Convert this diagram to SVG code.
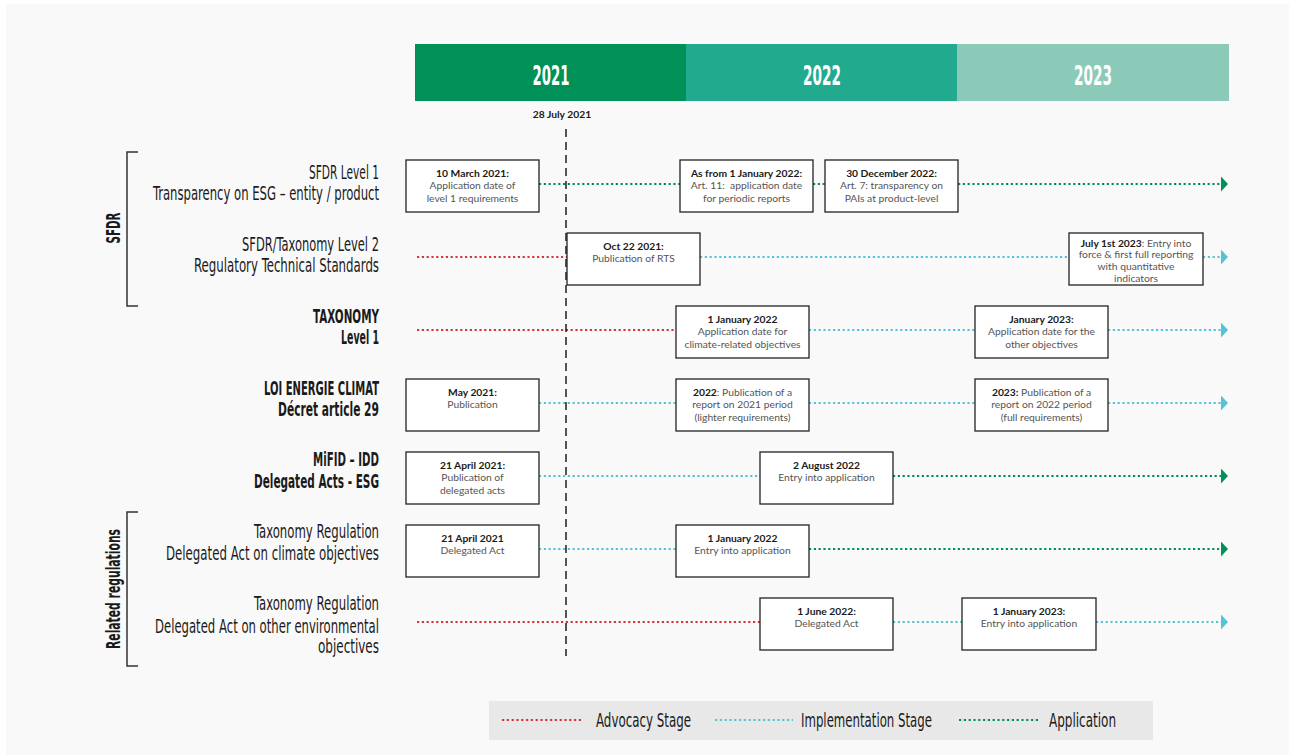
<svg xmlns="http://www.w3.org/2000/svg" width="1289" height="755" viewBox="0 0 1289 755">
  <defs>
    <style>
      .bg { fill: #f9f9f9; }
      .box { fill: #ffffff; stroke: #222222; stroke-width: 1.3; }
      .t { font-family: Lato, "Open Sans", "Liberation Sans", sans-serif; font-size: 10.3px; text-anchor: middle; }
      .tb { font-weight: bold; fill: #1a1a1a; }
      .tr { fill: #555555; }
      /* condensed display type: small size stretched vertically by the element transform */
      .cond { font-family: "DejaVu Sans Condensed", "Liberation Sans Narrow", "Liberation Sans", sans-serif; text-anchor: start; }
      .lab { font-size: 12.8px; fill: #1a1a1a; }
      .labb { font-size: 11.6px; font-weight: bold; }
      .grp { font-size: 11.6px; font-weight: bold; fill: #1a1a1a; }
      .year { font-size: 26px; font-weight: bold; fill: #ffffff; }
      .leg { font-size: 12.8px; fill: #1a1a1a; }
      .dot { fill: none; stroke-width: 2.2; stroke-dasharray: 2.2 2.6; }
      .adv { stroke: #d8343c; }
      .imp { stroke: #56c2d8; }
      .app { stroke: #009159; }
      .bracket { fill: none; stroke: #333333; stroke-width: 1.5; }
    </style>
    <marker id="arrApp" viewBox="0 0 7 15" refX="0" refY="7.5" markerWidth="7" markerHeight="15" markerUnits="userSpaceOnUse" orient="auto">
      <path d="M0,0 L7,7.5 L0,15 Z" fill="#009159"/>
    </marker>
    <marker id="arrImp" viewBox="0 0 7 15" refX="0" refY="7.5" markerWidth="7" markerHeight="15" markerUnits="userSpaceOnUse" orient="auto">
      <path d="M0,0 L7,7.5 L0,15 Z" fill="#56c2d8"/>
    </marker>
  </defs>

  <rect x="0" y="0" width="1289" height="755" fill="#ffffff"/>
  <rect class="bg" x="6" y="4" width="1283" height="751"/>

  <!-- year header -->
  <g id="years">
    <rect x="415" y="44" width="271" height="57" fill="#009159"/>
    <rect x="686" y="44" width="271" height="57" fill="#22aa8e"/>
    <rect x="957" y="44" width="272" height="57" fill="#8bcab9"/>
    <text class="cond year" x="532.5" y="85" textLength="37" lengthAdjust="spacingAndGlyphs">2021</text>
    <text class="cond year" x="803" y="85" textLength="38" lengthAdjust="spacingAndGlyphs">2022</text>
    <text class="cond year" x="1074" y="85" textLength="38" lengthAdjust="spacingAndGlyphs">2023</text>
  </g>

  <!-- group brackets -->
  <g id="group-sfdr">
    <path class="bracket" d="M138,152 H127 V306 H138"/>
    <text class="cond grp" transform="translate(120,228) rotate(-90) scale(1,1.64)" x="-15.5" y="0" textLength="31" lengthAdjust="spacingAndGlyphs">SFDR</text>
  </g>
  <g id="group-related">
    <path class="bracket" d="M138,512 H127 V666 H138"/>
    <text class="cond grp" transform="translate(120,589) rotate(-90) scale(1,1.64)" x="-60" y="0" textLength="120" lengthAdjust="spacingAndGlyphs">Related regulations</text>
  </g>

  <!-- row labels, right edge at x=379 -->
  <g id="label-sfdr-l1">
    <text class="cond lab" transform="translate(309,179) scale(1,1.49)" textLength="70" lengthAdjust="spacingAndGlyphs">SFDR Level 1</text>
    <text class="cond lab" transform="translate(153,200) scale(1,1.49)" textLength="226" lengthAdjust="spacingAndGlyphs">Transparency on ESG – entity / product</text>
  </g>
  <g id="label-sfdr-l2">
    <text class="cond lab" transform="translate(242,251) scale(1,1.49)" textLength="137" lengthAdjust="spacingAndGlyphs">SFDR/Taxonomy Level 2</text>
    <text class="cond lab" transform="translate(194,272) scale(1,1.49)" textLength="185" lengthAdjust="spacingAndGlyphs">Regulatory Technical Standards</text>
  </g>
  <g id="label-taxonomy">
    <text class="cond lab labb" transform="translate(313,323) scale(1,1.64)" textLength="66" lengthAdjust="spacingAndGlyphs">TAXONOMY</text>
    <text class="cond lab labb" transform="translate(341,344) scale(1,1.64)" textLength="38" lengthAdjust="spacingAndGlyphs">Level 1</text>
  </g>
  <g id="label-lec">
    <text class="cond lab labb" transform="translate(264,395) scale(1,1.64)" textLength="115" lengthAdjust="spacingAndGlyphs">LOI ENERGIE CLIMAT</text>
    <text class="cond lab labb" transform="translate(278,416) scale(1,1.64)" textLength="101" lengthAdjust="spacingAndGlyphs">Décret article 29</text>
  </g>
  <g id="label-mifid">
    <text class="cond lab labb" transform="translate(313,466) scale(1,1.64)" textLength="66" lengthAdjust="spacingAndGlyphs">MiFID – IDD</text>
    <text class="cond lab labb" transform="translate(254,488) scale(1,1.64)" textLength="125" lengthAdjust="spacingAndGlyphs">Delegated Acts - ESG</text>
  </g>
  <g id="label-da-climate">
    <text class="cond lab" transform="translate(254,538) scale(1,1.49)" textLength="125" lengthAdjust="spacingAndGlyphs">Taxonomy Regulation</text>
    <text class="cond lab" transform="translate(166,560) scale(1,1.49)" textLength="213" lengthAdjust="spacingAndGlyphs">Delegated Act on climate objectives</text>
  </g>
  <g id="label-da-env">
    <text class="cond lab" transform="translate(254,610) scale(1,1.49)" textLength="125" lengthAdjust="spacingAndGlyphs">Taxonomy Regulation</text>
    <text class="cond lab" transform="translate(155,633) scale(1,1.49)" textLength="224" lengthAdjust="spacingAndGlyphs">Delegated Act on other environmental</text>
    <text class="cond lab" transform="translate(318,653) scale(1,1.49)" textLength="61" lengthAdjust="spacingAndGlyphs">objectives</text>
  </g>

  <!-- stage connectors -->
  <g id="connectors">
    <!-- SFDR level 1 -->
    <line class="dot app" x1="539" y1="184" x2="680" y2="184"/>
    <line class="dot app" x1="813" y1="184" x2="825" y2="184"/>
    <line class="dot app" x1="958" y1="184" x2="1221" y2="184" marker-end="url(#arrApp)"/>
    <!-- SFDR level 2 -->
    <line class="dot adv" x1="417" y1="257" x2="567" y2="257"/>
    <line class="dot imp" x1="700" y1="257" x2="1069" y2="257"/>
    <line class="dot imp" x1="1203" y1="257" x2="1221" y2="257" marker-end="url(#arrImp)"/>
    <!-- Taxonomy level 1 -->
    <line class="dot adv" x1="417" y1="330" x2="676" y2="330"/>
    <line class="dot imp" x1="809" y1="330" x2="975" y2="330"/>
    <line class="dot imp" x1="1108" y1="330" x2="1221" y2="330" marker-end="url(#arrImp)"/>
    <!-- Loi energie climat -->
    <line class="dot imp" x1="539" y1="403" x2="676" y2="403"/>
    <line class="dot imp" x1="809" y1="403" x2="975" y2="403"/>
    <line class="dot imp" x1="1108" y1="403" x2="1221" y2="403" marker-end="url(#arrImp)"/>
    <!-- MiFID / IDD -->
    <line class="dot imp" x1="539" y1="476" x2="760" y2="476"/>
    <line class="dot app" x1="893" y1="476" x2="1221" y2="476" marker-end="url(#arrApp)"/>
    <!-- Delegated act, climate -->
    <line class="dot imp" x1="539" y1="549" x2="676" y2="549"/>
    <line class="dot app" x1="809" y1="549" x2="1221" y2="549" marker-end="url(#arrApp)"/>
    <!-- Delegated act, other objectives -->
    <line class="dot adv" x1="417" y1="622" x2="760" y2="622"/>
    <line class="dot imp" x1="893" y1="622" x2="962" y2="622"/>
    <line class="dot imp" x1="1096" y1="622" x2="1221" y2="622" marker-end="url(#arrImp)"/>
  </g>

  <!-- 28 July 2021 marker -->
  <g id="milestone-28-july">
    <text class="t tb" x="562" y="118" font-size="10.5">28 July 2021</text>
    <line x1="566" y1="129" x2="566" y2="656" stroke="#111111" stroke-width="1.4" stroke-dasharray="8 5"/>
  </g>

  <!-- event boxes -->
  <g id="sfdr1-mar21">
    <rect class="box" x="406" y="160" width="133" height="52"/>
    <text class="t tb" x="472.5" y="176.5">10 March 2021:</text>
    <text class="t tr" x="472.5" y="189">Application date of</text>
    <text class="t tr" x="472.5" y="201.5">level 1 requirements</text>
  </g>
  <g id="sfdr1-jan22">
    <rect class="box" x="680" y="160" width="133" height="52"/>
    <text class="t tb" x="746.5" y="176.5">As from 1 January 2022:</text>
    <text class="t tr" x="746.5" y="189" xml:space="preserve">Art. 11:  application date</text>
    <text class="t tr" x="746.5" y="201.5">for periodic reports</text>
  </g>
  <g id="sfdr1-dec22">
    <rect class="box" x="825" y="160" width="133" height="52"/>
    <text class="t tb" x="891.5" y="176.5">30 December 2022:</text>
    <text class="t tr" x="891.5" y="189">Art. 7: transparency on</text>
    <text class="t tr" x="891.5" y="201.5">PAIs at product-level</text>
  </g>

  <g id="sfdr2-oct21">
    <rect class="box" x="567" y="233" width="133" height="52"/>
    <text class="t tb" x="633.5" y="249.5">Oct 22 2021:</text>
    <text class="t tr" x="633.5" y="262">Publication of RTS</text>
  </g>
  <g id="sfdr2-jul23">
    <rect class="box" x="1069" y="233" width="134" height="52"/>
    <text class="t" x="1136" y="246.5"><tspan class="tb">July 1st 2023</tspan><tspan class="tr">: Entry into</tspan></text>
    <text class="t tr" x="1136" y="258.2">force &amp; first full reporting</text>
    <text class="t tr" x="1136" y="269.9">with quantitative</text>
    <text class="t tr" x="1136" y="281.6">indicators</text>
  </g>

  <g id="tax1-jan22">
    <rect class="box" x="676" y="306" width="133" height="52"/>
    <text class="t tb" x="742.5" y="322.5">1 January 2022</text>
    <text class="t tr" x="742.5" y="335">Application date for</text>
    <text class="t tr" x="742.5" y="347.5">climate-related objectives</text>
  </g>
  <g id="tax1-jan23">
    <rect class="box" x="975" y="306" width="133" height="52"/>
    <text class="t tb" x="1041.5" y="322.5">January 2023:</text>
    <text class="t tr" x="1041.5" y="335">Application date for the</text>
    <text class="t tr" x="1041.5" y="347.5">other objectives</text>
  </g>

  <g id="lec-may21">
    <rect class="box" x="406" y="379" width="133" height="52"/>
    <text class="t tb" x="472.5" y="395.5">May 2021:</text>
    <text class="t tr" x="472.5" y="408">Publication</text>
  </g>
  <g id="lec-2022">
    <rect class="box" x="676" y="379" width="133" height="52"/>
    <text class="t" x="742.5" y="395.5"><tspan class="tb">2022</tspan><tspan class="tr">: Publication of a</tspan></text>
    <text class="t tr" x="742.5" y="408">report on 2021 period</text>
    <text class="t tr" x="742.5" y="420.5">(lighter requirements)</text>
  </g>
  <g id="lec-2023">
    <rect class="box" x="975" y="379" width="133" height="52"/>
    <text class="t" x="1041.5" y="395.5"><tspan class="tb">2023:</tspan><tspan class="tr"> Publication of a</tspan></text>
    <text class="t tr" x="1041.5" y="408">report on 2022 period</text>
    <text class="t tr" x="1041.5" y="420.5">(full requirements)</text>
  </g>

  <g id="mifid-apr21">
    <rect class="box" x="406" y="452" width="133" height="52"/>
    <text class="t tb" x="472.5" y="468.5">21 April 2021:</text>
    <text class="t tr" x="472.5" y="481">Publication of</text>
    <text class="t tr" x="472.5" y="493.5">delegated acts</text>
  </g>
  <g id="mifid-aug22">
    <rect class="box" x="760" y="452" width="133" height="52"/>
    <text class="t tb" x="826.5" y="468.5">2 August 2022</text>
    <text class="t tr" x="826.5" y="481">Entry into application</text>
  </g>

  <g id="dac-apr21">
    <rect class="box" x="406" y="525" width="133" height="52"/>
    <text class="t tb" x="472.5" y="541.5">21 April 2021</text>
    <text class="t tr" x="472.5" y="554">Delegated Act</text>
  </g>
  <g id="dac-jan22">
    <rect class="box" x="676" y="525" width="133" height="52"/>
    <text class="t tb" x="742.5" y="541.5">1 January 2022</text>
    <text class="t tr" x="742.5" y="554">Entry into application</text>
  </g>

  <g id="dae-jun22">
    <rect class="box" x="760" y="598" width="133" height="52"/>
    <text class="t tb" x="826.5" y="614.5">1 June 2022:</text>
    <text class="t tr" x="826.5" y="627">Delegated Act</text>
  </g>
  <g id="dae-jan23">
    <rect class="box" x="962" y="598" width="134" height="52"/>
    <text class="t tb" x="1029" y="614.5">1 January 2023:</text>
    <text class="t tr" x="1029" y="627">Entry into application</text>
  </g>

  <!-- legend -->
  <g id="legend">
    <rect x="489" y="701" width="664" height="39" fill="#e8e8e8"/>
    <line class="dot adv" x1="502" y1="720" x2="582" y2="720"/>
    <text class="cond leg" transform="translate(596,727) scale(1,1.49)" textLength="95" lengthAdjust="spacingAndGlyphs">Advocacy Stage</text>
    <line class="dot imp" x1="715" y1="720" x2="793" y2="720"/>
    <text class="cond leg" transform="translate(801,727) scale(1,1.49)" textLength="131" lengthAdjust="spacingAndGlyphs">Implementation Stage</text>
    <line class="dot app" x1="959" y1="720" x2="1038" y2="720"/>
    <text class="cond leg" transform="translate(1049,727) scale(1,1.49)" textLength="67" lengthAdjust="spacingAndGlyphs">Application</text>
  </g>
</svg>
